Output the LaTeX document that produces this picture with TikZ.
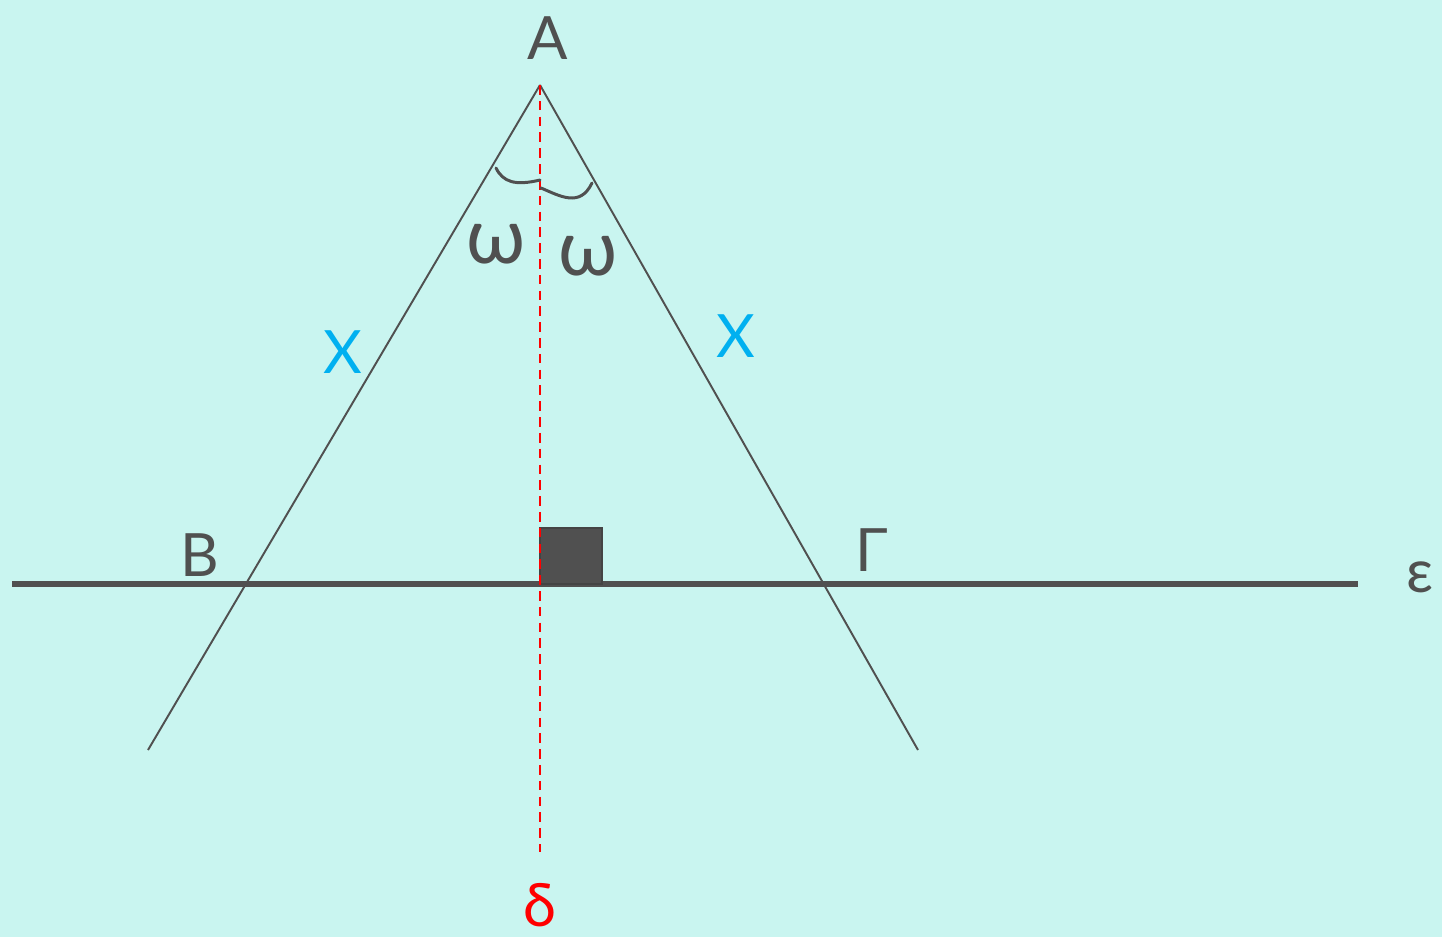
\documentclass[tikz,border=0pt]{standalone}
\usepackage{fontspec}
\setmainfont{Lato}
\usetikzlibrary{positioning,calc}
\definecolor{bgmint}{RGB}{201,245,240}
\definecolor{lineGrey}{RGB}{80,80,80}
\definecolor{chiblue}{RGB}{0,176,240}
\definecolor{deltared}{RGB}{255,0,0}

\tikzset{
    lbl/.style={font=\fontsize{34}{40}\selectfont, text=lineGrey, inner sep=0pt},
    omega/.style={lbl, font=\fontsize{44}{48}\selectfont},
    side/.style={draw=lineGrey, line width=1.1pt},
    axis/.style={draw=lineGrey, line width=3.2pt},
    bisect/.style={draw=deltared, line width=1.5pt, dash pattern=on 5.5pt off 3.5pt},
    anglemark/.style={draw=lineGrey, line width=1.7pt, line cap=round}
}

\begin{document}
\begin{tikzpicture}[x=0.02cm, y=-0.02cm]
    % canvas
    \fill[bgmint] (0,0) rectangle (1442,937);
    \useasboundingbox (0,0) rectangle (1442,937);
    % points
    \coordinate (A) at (540,85);
    \coordinate (Lend) at (148,750);
    \coordinate (Rend) at (918,750);
    \coordinate (Ew) at (12,584);
    \coordinate (Ee) at (1358,584);
    \coordinate (Dend) at (540,852);
    \coordinate (H) at (540,584);
    % line epsilon and the square
    \draw[axis] (Ew) -- (Ee);
    \filldraw[fill=lineGrey, draw=lineGrey!85!black, line width=1.2pt]
        (H) rectangle ++(62,-56);
    % sides
    \draw[side] (A) -- (Lend);
    \draw[side] (A) -- (Rend);
    % bisector delta
    \draw[bisect] (A) -- (Dend);
    % angle marks
    \draw[anglemark] (496,168) .. controls (503,182) and (515,186) .. (540,180);
    \draw[anglemark] (541,188) .. controls (560,196) and (580,208) .. (592,183);
    % labels
    \node[lbl] (lA) at (548,38) {A};
    \node[lbl] (lB) at (200,555) {B};
    \node[lbl] (lG) at (872,550) {Γ};
    \node[lbl] (lE) at (1420,577) {ε};
    \node[lbl, text=deltared] (lD) at (540,905) {δ};
    \node[lbl, text=chiblue] (chiL) at (343,352) {Χ};
    \node[lbl, text=chiblue] (chiR) at (736,336) {Χ};
    \node[omega] (omL) at (496,244) {ω};
    \node[omega] (omR) at (588,256) {ω};
\end{tikzpicture}
\end{document}
